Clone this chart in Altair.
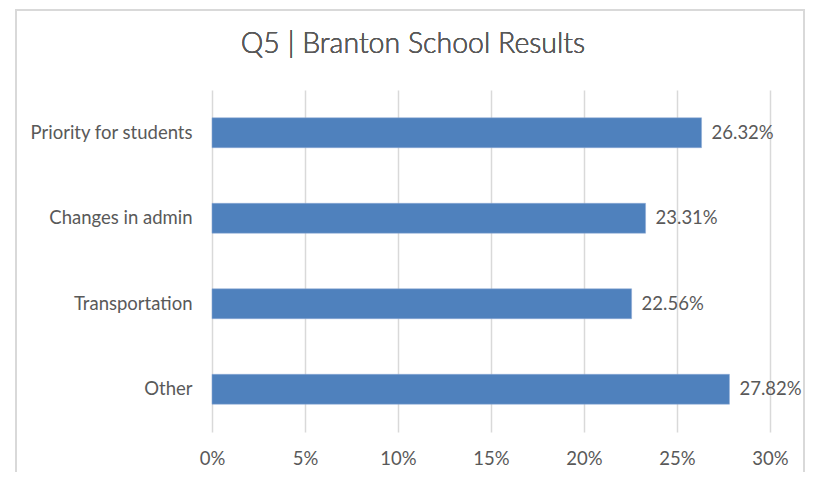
import altair as alt
import pandas as pd

title_text = "Q5 | Branton School Results"
categories = ["Priority for students", "Changes in admin", "Transportation", "Other"]
values = [0.2632, 0.2331, 0.2256, 0.2782]
x_ticks = [0, 0.05, 0.10, 0.15, 0.20, 0.25, 0.30]

df = pd.DataFrame({"category": categories, "value": values})

FONT = "Lato"
GREY = "#595959"
FS = 18.5

y_enc = alt.Y("category:N", sort=categories, title=None,
              scale=alt.Scale(paddingInner=0.65, paddingOuter=0.325),
              axis=alt.Axis(labelFont=FONT, labelFontSize=FS, labelColor=GREY,
                            labelPadding=20, ticks=False, domain=False, grid=False))
x_enc = alt.X("value:Q", title=None,
              scale=alt.Scale(domain=[0, 0.30], nice=False),
              axis=alt.Axis(values=x_ticks, format=".0%", labelFont=FONT, labelFontSize=FS,
                            labelColor=GREY, labelPadding=17, labelFlush=False, ticks=False,
                            domain=False, grid=True, gridColor="#d9d9d9", gridWidth=1.5))

base = alt.Chart(df)

bars = base.mark_bar(color="#4F81BD", stroke="#8eaad6", strokeWidth=0.5).encode(x=x_enc, y=y_enc)

labels = base.mark_text(align="left", baseline="middle", dx=10, font=FONT,
                        fontSize=FS, color=GREY).encode(
    x="value:Q", y=alt.Y("category:N", sort=categories),
    text=alt.Text("value:Q", format=".2%"))

title = base.mark_text(align="center", baseline="middle", font=FONT, fontSize=28.5,
                       fontWeight=300, color=GREY).encode(
    x=alt.value(201), y=alt.value(-46), text=alt.value(title_text))

border = base.mark_rect(fill=None, stroke="#d9d9d9", strokeWidth=2).encode(
    x=alt.value(-196), x2=alt.value(592), y=alt.value(-80), y2=alt.value(420))

chart = alt.layer(bars, labels, title, border).properties(
    width=558, height=342,
    autosize=alt.AutoSizeParams(type="none"),
    padding={"left": 204, "top": 82, "right": 36, "bottom": 40},
).configure_view(stroke=None)

chart.save("out.html", embed_options={"renderer": "svg", "actions": False})
